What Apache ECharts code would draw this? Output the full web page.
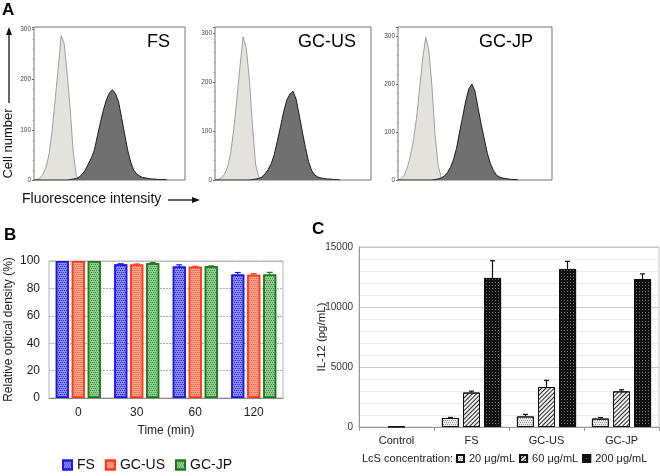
<!DOCTYPE html>
<html><head><meta charset="utf-8">
<script src="https://cdn.jsdelivr.net/npm/echarts@6/dist/echarts.min.js"></script>
<style>html,body{margin:0;padding:0;background:#fff}#c{width:660px;height:476px}</style>
</head><body><div id="c"></div>
<script>
// ---------- Panel A: flow cytometry histograms (counts per channel) ----------
const channels = [0,2,4,6,8,10,12,14,16,18,20,22,24,26,28,30,32,34,36,38,40,42,44,46,48,50,
  52,54,56,58,60,62,64,66,68,70,72,74,76,78,80,82,84,86,88,90,92,94,96,98,100];
const histControlFS = [0,1,4,12,26,52,98,160,222,288,272,212,140,55,9,2,0];
const histStainedFS = [0,0,0,0,0,0,0,0,0,0,0,0,
  1,2,3,6,12,20,32,44,60,88,115,140,160,174,180,172,156,124,92,60,36,20,12,8,5,4,3,2,2,1,1,1,0];
const histControlUS = [0,1,4,11,26,54,103,165,231,292,270,206,113,33,6,2,0];
const histStainedUS = [0,0,0,0,0,0,0,0,0,0,0,0,
  1,2,3,6,12,21,33,52,80,109,139,163,175,181,165,132,98,66,37,19,10,6,4,3,2,2,1,1,0];
const histControlJP = [0,3,10,25,50,82,128,190,252,298,272,198,97,32,5,1,0];
const histStainedJP = [0,0,0,0,0,0,0,0,0,0,0,0,
  1,2,4,8,15,26,42,66,100,132,165,190,200,185,150,116,86,56,34,20,10,6,4,3,2,1,1,0];
const histTitles = ['FS','GC-US','GC-JP'];
const histYMax = [305, 312, 319];

// ---------- Panel B: relative optical density ----------
const timeCats = ['0','30','60','120'];
const odFS = [100, 97.6, 96.0, 90.2];   const odFSErr = [0, 0.4, 1.2, 1.4];
const odUS = [100, 97.5, 95.8, 90.0];   const odUSErr = [0, 0.3, 0.3, 0.8];
const odJP = [100, 98.4, 96.1, 90.2];   const odJPErr = [0, 0.4, 0.3, 1.5];

// ---------- Panel C: IL-12 ----------
const il12Cats = ['Control','FS','GC-US','GC-JP'];
const il12Low  = [null, 750, 880, 700];       const il12LowErr  = [0, 50, 170, 90];
const il12Mid  = [40, 2870, 3330, 2970];      const il12MidErr  = [0, 120, 560, 130];
const il12High = [null, 12420, 13170, 12330]; const il12HighErr = [0, 1430, 630, 430];

const FONT = '"Liberation Sans", Arial, sans-serif';
const chart = echarts.init(document.getElementById('c'));

const histGrids = [
  {left:34, top:27, width:151, height:153},
  {left:215, top:27, width:156, height:153},
  {left:398, top:27, width:154, height:153}
];
const grids = histGrids.map(g => Object.assign({show:true, borderColor:'#777', borderWidth:1}, g));
grids.push({left:49, top:261, width:234, height:137, show:true, borderColor:'#b4b4b4', borderWidth:1});
grids.push({left:359, top:247, width:300, height:180, show:true, borderColor:'#c4c4c4', borderWidth:1});

const xAxes = [], yAxes = [];
for (let i = 0; i < 3; i++) {
  xAxes.push({type:'value', gridIndex:i, min:0, max:100, show:false});
  yAxes.push({type:'value', gridIndex:i, min:0, max:histYMax[i], interval:100,
    axisLine:{show:false},
    axisTick:{show:true, length:2, lineStyle:{color:'#666'}},
    minorTick:{show:true, splitNumber:5, length:1.2, lineStyle:{color:'#888'}},
    splitLine:{show:false},
    axisLabel:{fontSize:6.5, color:'#444', margin:3, fontFamily:FONT,
      formatter: v => (v % 100 === 0 ? String(v) : '')}});
}
xAxes.push({type:'category', gridIndex:3, data:timeCats,
  axisLine:{lineStyle:{color:'#8a8a8a'}}, axisTick:{show:false},
  axisLabel:{fontSize:12, color:'#222', margin:9, fontFamily:FONT},
  name:'Time (min)', nameLocation:'middle', nameGap:27, nameMoveOverlap:false,
  nameTextStyle:{fontSize:12, color:'#222', fontFamily:FONT}});
yAxes.push({type:'value', gridIndex:3, min:0, max:100, interval:20,
  axisLine:{show:false}, axisTick:{show:false},
  splitLine:{lineStyle:{color:'#b0b0b0', type:[2,1]}},
  axisLabel:{fontSize:12, color:'#222', margin:9, fontFamily:FONT},
  name:'Relative optical density (%)', nameLocation:'middle', nameGap:34, nameMoveOverlap:false,
  nameTextStyle:{fontSize:12, color:'#222', fontFamily:FONT}});
xAxes.push({type:'category', gridIndex:4, data:il12Cats,
  axisLine:{lineStyle:{color:'#9a9a9a'}},
  axisTick:{show:true, length:4, lineStyle:{color:'#9a9a9a'}},
  axisLabel:{fontSize:11, color:'#222', margin:8, fontFamily:FONT}});
yAxes.push({type:'value', gridIndex:4, min:0, max:15000, interval:5000,
  axisLine:{show:true, lineStyle:{color:'#9a9a9a'}}, axisTick:{show:false},
  splitLine:{lineStyle:{color:'#c8c8c8'}},
  minorTick:{show:false, splitNumber:5},
  minorSplitLine:{show:true, lineStyle:{color:'#ececec'}},
  axisLabel:{fontSize:10, color:'#333', margin:6, fontFamily:FONT, formatter: v => String(v)},
  name:'IL-12 (pg/mL)', nameLocation:'middle', nameGap:31, nameMoveOverlap:false,
  nameTextStyle:{fontSize:11.5, color:'#222', fontFamily:FONT}});

const series = [];
const histPairs = [[histControlFS, histStainedFS],[histControlUS, histStainedUS],[histControlJP, histStainedJP]];
histPairs.forEach((pair, i) => {
  series.push({type:'line', xAxisIndex:i, yAxisIndex:i, showSymbol:false, silent:true,
    data: pair[0].map((v, k) => [channels[k], v]),
    lineStyle:{color:'#8a8a8a', width:0.8}, areaStyle:{color:'#e4e2dd', opacity:1}, z:2});
  series.push({type:'line', xAxisIndex:i, yAxisIndex:i, showSymbol:false, silent:true,
    data: pair[1].map((v, k) => [channels[k], v]),
    lineStyle:{color:'#1e1e1e', width:1}, areaStyle:{color:'#707070', opacity:1}, z:3});
});

function dots(color) {
  return {symbol:'rect', symbolSize:1, color:color, dashArrayX:[[1,1],[0,1,1,0]], dashArrayY:[1,1]};
}
function barB(name, vals, base, dec, border) {
  return {type:'bar', name:name, xAxisIndex:3, yAxisIndex:3, data:vals, barWidth:13, barGap:'23%',
    itemStyle:{color:base, borderColor:border, borderWidth:1.5, decal:dots(dec)}};
}
function errBars(xi, vals, errs, offset, color, cap) {
  return {type:'custom', xAxisIndex:xi, yAxisIndex:xi, z:5, silent:true,
    data: vals.map((v, i) => [i, v == null ? 0 : v, errs[i]]),
    encode:{x:0, y:1},
    renderItem: function (params, api) {
      const e = api.value(2);
      if (!(e > 0)) return null;
      const p0 = api.coord([api.value(0), api.value(1)]);
      const p1 = api.coord([api.value(0), api.value(1) + e]);
      const x = p0[0] + offset;
      return {type:'group', children:[
        {type:'line', shape:{x1:x, y1:p0[1], x2:x, y2:p1[1]}, style:{stroke:color, lineWidth:1.2}},
        {type:'line', shape:{x1:x - cap, y1:p1[1], x2:x + cap, y2:p1[1]}, style:{stroke:color, lineWidth:1.2}}
      ]};
    }};
}
series.push(barB('FS', odFS, '#8c8cff', '#2a2ae0', '#1a1ae6'));
series.push(barB('GC-US', odUS, '#ffa58f', '#ff5533', '#ff3a1a'));
series.push(barB('GC-JP', odJP, '#90cc90', '#3e943e', '#1e7a1e'));
series.push(errBars(3, odFS, odFSErr, -16, '#1a1ae6', 3));
series.push(errBars(3, odUS, odUSErr, 0, '#ff3a1a', 3));
series.push(errBars(3, odJP, odJPErr, 16, '#1e7a1e', 3));

function barC(name, vals, base, decal) {
  return {type:'bar', name:name, xAxisIndex:4, yAxisIndex:4, data:vals, barWidth:17, barGap:'24%',
    itemStyle:{color:base, borderColor:'#111', borderWidth:1, decal:decal}};
}
series.push(barC('20 μg/mL', il12Low, '#ececec', dots('#9a9a9a')));
series.push(barC('60 μg/mL', il12Mid, '#f2f2f2',
  {symbol:'rect', symbolSize:1, color:'#2a2a2a', dashArrayX:[1,0], dashArrayY:[1,1.5], rotation:-Math.PI/4}));
series.push(barC('200 μg/mL', il12High, '#111111',
  {symbol:'rect', symbolSize:1, color:'#707070', dashArrayX:[1,2], dashArrayY:[1,2]}));
series.push(errBars(4, il12Low, il12LowErr, -21, '#111', 2.5));
series.push(errBars(4, il12Mid, il12MidErr, 0, '#111', 2.5));
series.push(errBars(4, il12High, il12HighErr, 21, '#111', 2.5));

const titleX = [147, 298, 479];
const graphics = [
  {type:'text', left:2, top:2, style:{text:'A', font:'bold 17px ' + FONT, fill:'#000'}},
  {type:'text', left:4, top:227, style:{text:'B', font:'bold 17px ' + FONT, fill:'#000'}},
  {type:'text', left:312, top:221, style:{text:'C', font:'bold 17px ' + FONT, fill:'#000'}},
  {type:'text', x:8.5, y:143.5, rotation:Math.PI/2,
    style:{text:'Cell number', font:'13px ' + FONT, fill:'#111', align:'center', verticalAlign:'middle'}},
  {type:'line', shape:{x1:9, y1:103, x2:9, y2:33}, style:{stroke:'#111', lineWidth:1.3}},
  {type:'polygon', shape:{points:[[9,27],[6,35],[12,35]]}, style:{fill:'#111'}},
  {type:'text', x:22, y:199,
    style:{text:'Fluorescence intensity', font:'14px ' + FONT, fill:'#111', verticalAlign:'middle'}},
  {type:'line', shape:{x1:168, y1:200, x2:194, y2:200}, style:{stroke:'#111', lineWidth:1.3}},
  {type:'polygon', shape:{points:[[200,200],[192,197],[192,203]]}, style:{fill:'#111'}},
  {type:'text', x:362, y:459,
    style:{text:'LcS concentration:', font:'11px ' + FONT, fill:'#222', verticalAlign:'middle'}}
];
histTitles.forEach((t, i) => graphics.push({type:'text', x:titleX[i], y:42,
  style:{text:t, font:'18px ' + FONT, fill:'#000', verticalAlign:'middle'}}));

chart.setOption({
  animation:false,
  textStyle:{fontFamily:FONT},
  grid:grids, xAxis:xAxes, yAxis:yAxes, series:series, graphic:graphics,
  legend:[
    {data:['FS','GC-US','GC-JP'], left:57, top:453, icon:'rect', itemWidth:9, itemHeight:9, itemGap:10,
      textStyle:{fontSize:14, color:'#111', fontFamily:FONT}, selectedMode:false},
    {data:['20 μg/mL','60 μg/mL','200 μg/mL'], left:456, top:453, width:204, padding:0, icon:'rect',
      itemWidth:7, itemHeight:7, itemGap:4, textStyle:{fontSize:11, color:'#222', fontFamily:FONT},
      selectedMode:false}
  ]
});
</script></body></html>
